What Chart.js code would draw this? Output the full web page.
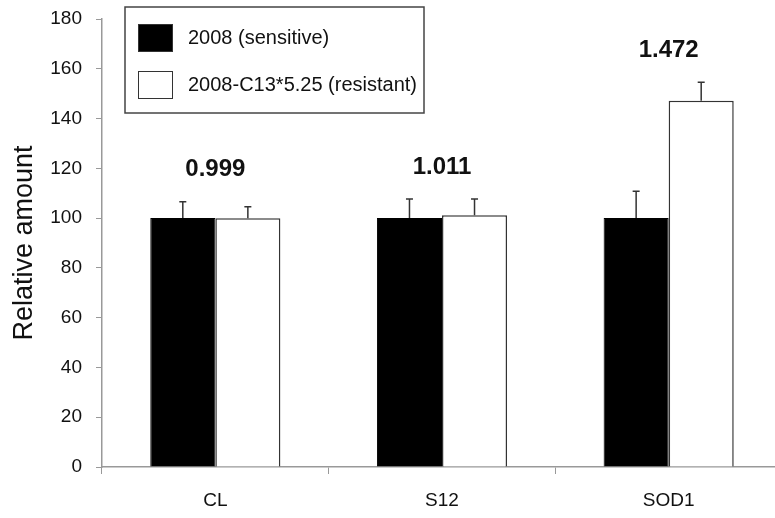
<!DOCTYPE html>
<html>
<head>
<meta charset="utf-8">
<script src="https://cdn.jsdelivr.net/npm/chart.js@4/dist/chart.umd.min.js"></script>
<style>
  html, body { margin: 0; padding: 0; background: #fff; overflow: hidden; }
  #wrap { width: 784px; height: 518px; }
</style>
</head>
<body>
<div id="wrap"><canvas id="myChart" width="784" height="518"></canvas></div>
<script>
var categories   = ['CL', 'S12', 'SOD1'];
var sensitive    = [100, 100, 100];
var resistant    = [99.9, 101.1, 147.2];
var sensitiveErr = [6.6, 7.7, 10.8];
var resistantErr = [4.7, 6.6, 7.4];
var ratioLabels  = ['0.999', '1.011', '1.472'];
var yTicks       = [0, 20, 40, 60, 80, 100, 120, 140, 160, 180];

var FONT = "'Liberation Sans', Arial, sans-serif";

// upward error bars with a small cap
var errorBars = {
	id: 'errorBars',
	afterDatasetsDraw: function(chart) {
		var ctx = chart.ctx;
		var y = chart.scales.y;
		ctx.save();
		ctx.strokeStyle = '#333';
		ctx.lineWidth = 1.5;
		chart.data.datasets.forEach(function(ds, i) {
			var meta = chart.getDatasetMeta(i);
			meta.data.forEach(function(bar, j) {
				var top = y.getPixelForValue(ds.data[j] + ds.errors[j]);
				ctx.beginPath();
				ctx.moveTo(bar.x, bar.y);
				ctx.lineTo(bar.x, top);
				ctx.moveTo(bar.x - 3.5, top);
				ctx.lineTo(bar.x + 3.5, top);
				ctx.stroke();
			});
		});
		ctx.restore();
	}
};

// ratio labels above each group + boxed legend
var extras = {
	id: 'extras',
	afterDraw: function(chart) {
		var ctx = chart.ctx;
		var x = chart.scales.x;
		var y = chart.scales.y;
		var sets = chart.data.datasets;
		ctx.save();

		ctx.fillStyle = '#111';
		ctx.font = 'bold 24px ' + FONT;
		ctx.textAlign = 'center';
		ctx.textBaseline = 'bottom';
		categories.forEach(function(c, j) {
			var maxTop = Math.max.apply(null, sets.map(function(ds) { return ds.data[j] + ds.errors[j]; }));
			ctx.fillText(ratioLabels[j], x.getPixelForValue(j), y.getPixelForValue(maxTop) - 20);
		});

		// legend
		ctx.fillStyle = '#fff';
		ctx.fillRect(125, 7, 299, 106);
		ctx.strokeStyle = '#444';
		ctx.lineWidth = 1.5;
		ctx.strokeRect(125, 7, 299, 106);
		ctx.font = '20px ' + FONT;
		ctx.textAlign = 'left';
		ctx.textBaseline = 'middle';
		sets.forEach(function(ds, i) {
			var top = 24 + i * 47;
			ctx.fillStyle = ds.backgroundColor;
			ctx.fillRect(138, top, 35, 28);
			ctx.strokeStyle = '#333';
			ctx.lineWidth = 1;
			ctx.strokeRect(138.5, top + 0.5, 34, 27);
			ctx.fillStyle = '#111';
			ctx.fillText(ds.label, 188, top + 14);
		});
		ctx.restore();
	}
};

var ctx = document.getElementById('myChart');
var myBarChart = new Chart(ctx, {
	type: 'bar',
	data: {
		labels: categories,
		datasets: [
			{
				label: '2008 (sensitive)',
				data: sensitive,
				errors: sensitiveErr,
				backgroundColor: '#000',
				borderColor: '#000',
				borderWidth: 1
			},
			{
				label: '2008-C13*5.25 (resistant)',
				data: resistant,
				errors: resistantErr,
				backgroundColor: '#fff',
				borderColor: '#333',
				borderWidth: 1.5
			}
		]
	},
	options: {
		responsive: false,
		animation: false,
		datasets: { bar: { categoryPercentage: 0.574, barPercentage: 1 } },
		layout: { padding: { top: 19, right: 2, bottom: 0, left: 0 } },
		plugins: {
			legend: { display: false },
			tooltip: { enabled: false }
		},
		scales: {
			x: {
				grid: { display: true, drawOnChartArea: false, drawTicks: true, tickLength: 7, color: '#999', offset: true },
				border: { color: '#999', width: 1.5 },
				ticks: { color: '#111', font: { family: FONT, size: 19 }, padding: 15 },
				afterFit: function(scale) { scale.height = 51; }
			},
			y: {
				min: 0,
				max: 180,
				afterBuildTicks: function(scale) {
					scale.ticks = yTicks.map(function(v) { return { value: v }; });
				},
				grid: { display: true, drawOnChartArea: false, drawTicks: true, tickLength: 6, color: '#999' },
				border: { color: '#999', width: 1.5 },
				ticks: { color: '#111', font: { family: FONT, size: 19 }, padding: 14 },
				title: {
					display: true,
					text: 'Relative amount',
					color: '#111',
					font: { family: FONT, size: 27 },
					padding: { top: 8, bottom: 0 }
				},
				afterFit: function(scale) {
					scale.width = 102;
					scale.paddingTop = 0;
					scale.paddingBottom = 0;
				}
			}
		}
	},
	plugins: [errorBars, extras]
});
</script>
</body>
</html>
